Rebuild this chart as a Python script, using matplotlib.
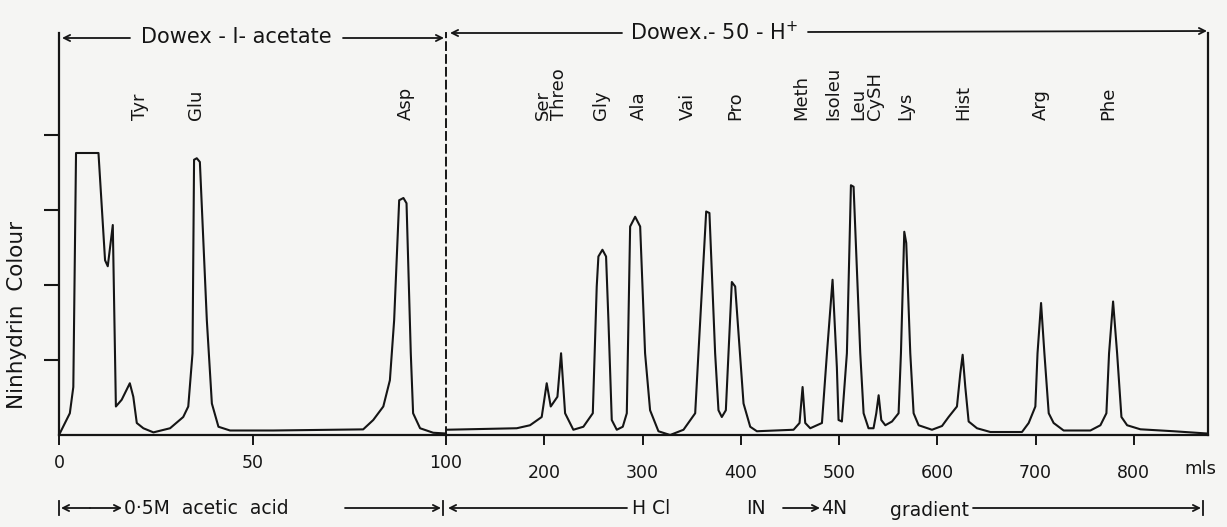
import matplotlib
matplotlib.use('Agg')
import matplotlib.pyplot as plt
from matplotlib.lines import Line2D

plt.rcParams['font.family'] = ['DejaVu Sans']

# ---------------- data ----------------
# Dowex-1-acetate section, x in mls (0-100)
left_ml = [0, 2.8, 3.7, 4.4, 10.2, 11.9, 12.6, 13.9, 14.7, 16.2, 18.3, 19.2,
           20.1, 21.8, 24.4, 28.7, 32.1, 33.4, 34.5, 34.9, 35.6, 36.4, 38.2,
           39.5, 41.2, 44.2, 55.4, 78.6, 81.2, 83.8, 85.5, 86.6, 87.9, 89.0,
           89.8, 90.9, 91.5, 93.3, 96.7, 100]
left_colour = [0, 0.29, 0.64, 3.76, 3.76, 2.33, 2.25, 2.80, 0.38, 0.47, 0.69,
               0.51, 0.16, 0.09, 0.035, 0.09, 0.24, 0.38, 1.09, 3.67, 3.69,
               3.64, 1.53, 0.42, 0.11, 0.06, 0.06, 0.075, 0.20, 0.38, 0.73,
               1.53, 3.13, 3.16, 3.09, 1.09, 0.29, 0.09, 0.03, 0.02]

# Dowex-50-H+ section, x in mls (100-875)
right_ml = [100, 172, 185.5, 197.4, 202.5, 206.6, 213.4, 217.1, 221.2, 229.6,
            239.8, 249.4, 253.4, 255.1, 259.2, 262.9, 265.3, 268.7, 273.8,
            279.9, 284, 287.4, 292.5, 297.6, 302.6, 307.7, 316.2, 328.1, 341.7,
            353.6, 356.9, 364.8, 368.1, 373.9, 377.3, 380.7, 384.8, 387.5,
            390.9, 394.3, 402.8, 409.6, 416.4, 453.7, 459.8, 462.9, 465.6,
            470.7, 482.6, 487.7, 493.4, 497.8, 499.5, 502.9, 508, 512.1, 514.8,
            521.6, 525, 530, 535.1, 537.9, 540.3, 543, 547.1, 553.9, 560.6,
            563, 566.4, 568.4, 572.5, 575.9, 581, 594.6, 604.8, 611.5, 620,
            623.4, 625.8, 628.5, 631.9, 640.4, 654, 686.2, 693, 699.8, 702,
            705.6, 709, 713.4, 718.4, 728.6, 755.8, 766, 772.1, 774.8, 778.9,
            783, 787.4, 793.2, 806.7, 840.6, 874.6]
right_colour = [0.07, 0.09, 0.13, 0.24, 0.69, 0.38, 0.51, 1.09, 0.29, 0.07,
                0.11, 0.29, 1.98, 2.38, 2.47, 2.38, 1.53, 0.20, 0.07,
                0.11, 0.29, 2.78, 2.91, 2.78, 1.09, 0.33, 0.05, 0.0, 0.07,
                0.29, 1.09, 2.98, 2.96, 1.09, 0.33, 0.24, 0.33, 1.09,
                2.04, 1.98, 0.42, 0.11, 0.05, 0.07, 0.16, 0.64, 0.16,
                0.09, 0.16, 1.09, 2.07, 0.90, 0.20, 0.18, 1.09, 3.33, 3.31,
                1.09, 0.29, 0.09, 0.09, 0.29, 0.53, 0.20, 0.13, 0.18, 0.29,
                1.09, 2.71, 2.56, 1.09, 0.29, 0.13, 0.07, 0.12, 0.24, 0.38,
                0.82, 1.07, 0.64, 0.18, 0.09, 0.04, 0.04, 0.16, 0.38, 1.09,
                1.76, 1.09, 0.29, 0.16, 0.06, 0.06, 0.13, 0.29, 1.09, 1.78,
                1.09, 0.24, 0.13, 0.076, 0.05, 0.02]
assert len(left_ml) == len(left_colour)
assert len(right_ml) == len(right_colour)

left_acids = ['Tyr', 'Glu', 'Asp']
left_acid_ml = [20.9, 35.4, 89.7]
right_acids = ['Ser\nThreo', 'Gly', 'Ala', 'Vai', 'Pro', 'Meth', 'Isoleu',
               'Leu\nCySH', 'Lys', 'Hist', 'Arg', 'Phe']
right_acid_ml = [206.9, 257.8, 296.5, 346.4, 394.3, 461.5, 494.1, 528.2,
                 567.4, 626.5, 704.9, 774.1]

left_ticks = [0, 50, 100]
right_ticks = [200, 300, 400, 500, 600, 700, 800]
y_ticks = [1, 2, 3, 4]

# ---------------- layout ----------------
W, H = 1227, 527
BG = '#f5f5f3'
INK = '#151515'
fig = plt.figure(figsize=(W / 100, H / 100), dpi=100, facecolor=BG)

base_px, top_px = 435, 33
unit_px = 75.0
x0_px, xmid_px, x1_px = 59, 446, 1208


def rect(l, r):
    return [l / W, (H - base_px) / H, (r - l) / W, (base_px - top_px) / H]


ymax = (base_px - top_px) / unit_px

axL = fig.add_axes(rect(x0_px, xmid_px))
axR = fig.add_axes(rect(xmid_px, x1_px))
for ax in (axL, axR):
    ax.set_facecolor('none')
    ax.set_ylim(0, ymax)
    ax.spines['top'].set_visible(False)
    for s in ax.spines.values():
        s.set_linewidth(1.6)
        s.set_color(INK)
    ax.tick_params(axis='x', direction='out', length=7, width=1.4,
                   colors=INK, labelsize=12.5)

axL.set_xlim(0, 100)
axR.set_xlim(100, 875.5)

axL.plot(left_ml, left_colour, color=INK, lw=1.5, solid_joinstyle='round')
axR.plot(right_ml, right_colour, color=INK, lw=1.5, solid_joinstyle='round')

axL.spines['right'].set_visible(False)
axL.set_xticks(left_ticks)
axL.set_xticklabels([str(t) for t in left_ticks])
axL.tick_params(axis='x', pad=7)
axL.set_yticks(y_ticks)
axL.set_yticklabels([])
axL.tick_params(axis='y', direction='out', length=11, width=1.5, colors=INK)

axR.spines['left'].set_linestyle((0, (4, 2.6)))
axR.spines['left'].set_linewidth(1.4)
axR.set_yticks([])
axR.set_xticks(right_ticks)
axR.set_xticklabels([str(t) for t in right_ticks])
axR.tick_params(axis='x', pad=14)

label_y = (base_px - 120) / unit_px
for name, x in zip(left_acids, left_acid_ml):
    axL.text(x, label_y, name, rotation=90, ha='center', va='bottom',
             multialignment='left', fontsize=13, color=INK)
for name, x in zip(right_acids, right_acid_ml):
    axR.text(x, label_y, name, rotation=90, ha='center', va='bottom',
             multialignment='left', linespacing=0.9, fontsize=13, color=INK)


# ---------------- annotations in figure pixels ----------------
def P(x, y):
    return (x, H - y)


def arrow(xa, ya, xb, yb, style='->'):
    axL.annotate('', xy=P(xb, yb), xytext=P(xa, ya),
                 xycoords='figure pixels', textcoords='figure pixels',
                 annotation_clip=False,
                 arrowprops=dict(arrowstyle=style, lw=1.3, color=INK,
                                 shrinkA=0, shrinkB=0, mutation_scale=11))


def bar(x, yc, half=7):
    fig.add_artist(Line2D([x / W, x / W], [(H - yc - half) / H, (H - yc + half) / H],
                          transform=fig.transFigure, color=INK, lw=1.3))


def ftext(x, y, s, ha='center', size=13.5, **kw):
    fig.text(x / W, (H - y) / H, s, ha=ha, va='center', fontsize=size,
             color=INK, **kw)


# top headers
arrow(130, 38, 62, 38)
ftext(236, 37, 'Dowex - I- acetate', size=15)
arrow(343, 38, 444, 38)

arrow(622, 33, 450, 33)
ftext(714, 32, 'Dowex.- 50 - H$^{+}$', size=15)
arrow(808, 32, 1207, 31)

# y label
ftext(17, 315, 'Ninhydrin  Colour', size=15.5, rotation=90)

# units
ftext(1200, 469, 'mls', size=13)

# bottom eluent row
yb = 508
bar(59, yb)
arrow(90, yb, 61, yb)
arrow(90, yb, 122, yb)
ftext(124, yb, '0·5M  acetic  acid', ha='left', size=13.5)
arrow(345, yb, 441, yb)
bar(443, yb)
arrow(627, yb, 448, yb)
ftext(632, yb, 'H Cl', ha='left', size=13.5)
ftext(746, yb, 'IN', ha='left', size=13.5)
arrow(783, yb, 820, yb)
ftext(821, yb, '4N', ha='left', size=13.5)
ftext(890, yb + 2, 'gradient', ha='left', size=13.5)
arrow(973, yb, 1201, yb)
bar(1203, yb)

fig.savefig('out.png', dpi=100, facecolor=BG)
